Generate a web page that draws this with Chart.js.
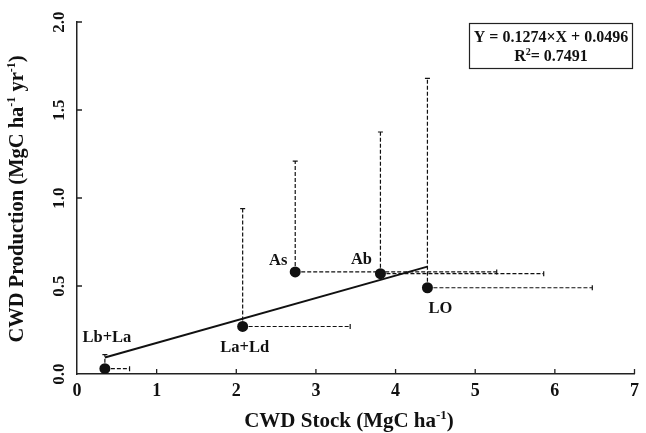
<!DOCTYPE html>
<html>
<head>
<meta charset="utf-8">
<script src="https://cdn.jsdelivr.net/npm/chart.js@4"></script>
<style>
  html, body { margin: 0; padding: 0; background: #fff; }
</style>
</head>
<body>
<canvas id="chart" width="646" height="433"></canvas>
<script>
// Data
var sites = ['Lb+La', 'La+Ld', 'As', 'Ab', 'LO'];
var stock = [0.35, 2.08, 2.74, 3.81, 4.40];          // CWD stock (x)
var stockUpper = [0.66, 3.43, 5.27, 5.86, 6.47];     // end of x error bar
var production = [0.03, 0.27, 0.58, 0.57, 0.49];    // CWD production (y)
var productionUpper = [0.11, 0.94, 1.21, 1.375, 1.68]; // end of y error bar
var fitX = [0.35, 4.40];
var fitY = [0.094, 0.61];
var xTicks = [0, 1, 2, 3, 4, 5, 6, 7];
var yTicks = ['0.0', '0.5', '1.0', '1.5', '2.0'];

var serif = '"Liberation Serif", "DejaVu Serif", serif';
var ink = '#111';

// label offsets from their point, in pixels
var labelOffset = [[2, -31], [2, 21], [-17, -11], [-19, -14], [13, 21]];

// draw text with superscripts, centred at (x, y)
function richText(ctx, parts, x, y, size) {
  var total = 0;
  parts.forEach(function(p) {
    ctx.font = 'bold ' + (p.sup ? Math.round(size * 0.6) : size) + 'px ' + serif;
    p.w = ctx.measureText(p.t).width;
    total += p.w;
  });
  var cx = x - total / 2;
  ctx.textAlign = 'left';
  ctx.textBaseline = 'middle';
  parts.forEach(function(p) {
    ctx.font = 'bold ' + (p.sup ? Math.round(size * 0.6) : size) + 'px ' + serif;
    ctx.fillText(p.t, cx, p.sup ? y - size * 0.3 : y);
    cx += p.w;
  });
}

var decorations = {
  id: 'decorations',
  beforeDatasetsDraw: function(chart) {
    var ctx = chart.ctx, xs = chart.scales.x, ys = chart.scales.y;
    ctx.save();
    ctx.strokeStyle = ink;
    ctx.lineWidth = 1.2;
    for (var i = 0; i < sites.length; i++) {
      var px = xs.getPixelForValue(stock[i]);
      var py = ys.getPixelForValue(production[i]);
      var top = ys.getPixelForValue(productionUpper[i]);
      var right = xs.getPixelForValue(stockUpper[i]);
      ctx.setLineDash([4, 2]);
      ctx.beginPath();
      ctx.moveTo(px, py); ctx.lineTo(px, top);
      ctx.moveTo(px, py); ctx.lineTo(right, py);
      ctx.stroke();
      ctx.setLineDash([]);
      ctx.beginPath();
      ctx.moveTo(px - 2.5, top); ctx.lineTo(px + 2.5, top);
      ctx.moveTo(right, py - 2.5); ctx.lineTo(right, py + 2.5);
      ctx.stroke();
    }
    ctx.restore();
  },
  afterDraw: function(chart) {
    var ctx = chart.ctx, xs = chart.scales.x, ys = chart.scales.y;
    var area = chart.chartArea;
    ctx.save();
    ctx.fillStyle = ink;
    ctx.strokeStyle = '#222';
    ctx.lineWidth = 1.3;

    // inward tick marks
    ctx.beginPath();
    xTicks.forEach(function(v) {
      if (v === 0) return;
      var p = xs.getPixelForValue(v);
      ctx.moveTo(p, area.bottom); ctx.lineTo(p, area.bottom - 5);
    });
    yTicks.forEach(function(v) {
      var p = ys.getPixelForValue(parseFloat(v));
      if (parseFloat(v) === 0) return;
      ctx.moveTo(area.left, p); ctx.lineTo(area.left + 5, p);
    });
    ctx.stroke();

    // rotated y tick labels
    ctx.font = 'bold 17px ' + serif;
    ctx.textAlign = 'center';
    ctx.textBaseline = 'middle';
    yTicks.forEach(function(v) {
      var p = ys.getPixelForValue(parseFloat(v));
      ctx.save();
      ctx.translate(60, p);
      ctx.rotate(-Math.PI / 2);
      ctx.fillText(v, 0, 0);
      ctx.restore();
    });

    // site labels
    ctx.font = 'bold 16.5px ' + serif;
    for (var i = 0; i < sites.length; i++) {
      var px = xs.getPixelForValue(stock[i]);
      var py = ys.getPixelForValue(production[i]);
      ctx.fillText(sites[i], px + labelOffset[i][0], py + labelOffset[i][1]);
    }

    // axis titles
    richText(ctx, [{t: 'CWD Stock (MgC ha'}, {t: '-1', sup: true}, {t: ')'}], 349, 422, 21);
    ctx.save();
    ctx.translate(18, 199);
    ctx.rotate(-Math.PI / 2);
    richText(ctx, [{t: 'CWD Production (MgC ha'}, {t: '-1', sup: true}, {t: ' yr'}, {t: '-1', sup: true}, {t: ')'}], 0, 0, 20.5);
    ctx.restore();

    // regression box
    ctx.strokeStyle = '#222';
    ctx.lineWidth = 1.2;
    ctx.strokeRect(469.5, 23.5, 163, 45);
    ctx.textAlign = 'center';
    ctx.font = 'bold 16px ' + serif;
    ctx.fillText('Y = 0.1274\u00d7X + 0.0496', 551, 38);
    richText(ctx, [{t: 'R'}, {t: '2', sup: true}, {t: '= 0.7491'}], 551, 57, 16);

    ctx.restore();
  }
};

new Chart(document.getElementById('chart'), {
  type: 'scatter',
  data: {
    datasets: [
      {
        type: 'line',
        data: fitX.map(function(x, i) { return {x: x, y: fitY[i]}; }),
        borderColor: ink,
        borderWidth: 2,
        pointRadius: 0,
        fill: false
      },
      {
        data: stock.map(function(x, i) { return {x: x, y: production[i]}; }),
        backgroundColor: ink,
        borderColor: ink,
        pointRadius: 5.5,
        pointBorderWidth: 0
      }
    ]
  },
  options: {
    responsive: false,
    animation: false,
    layout: { padding: { left: 0, right: 11, top: 22, bottom: 0 } },
    plugins: { legend: { display: false }, tooltip: { enabled: false } },
    scales: {
      x: {
        type: 'linear', min: 0, max: 7,
        afterFit: function(s) { s.height = 59; },
        grid: { drawOnChartArea: false, drawTicks: false },
        border: { color: '#222', width: 1.5 },
        ticks: {
          stepSize: 1, padding: 7, color: ink,
          font: { family: serif, weight: 'bold', size: 18 }
        }
      },
      y: {
        type: 'linear', min: 0, max: 2,
        afterFit: function(s) { s.width = 77; },
        grid: { drawOnChartArea: false, drawTicks: false },
        border: { color: '#222', width: 1.5 },
        ticks: { stepSize: 0.5, display: false }
      }
    }
  },
  plugins: [decorations]
});
</script>
</body>
</html>
